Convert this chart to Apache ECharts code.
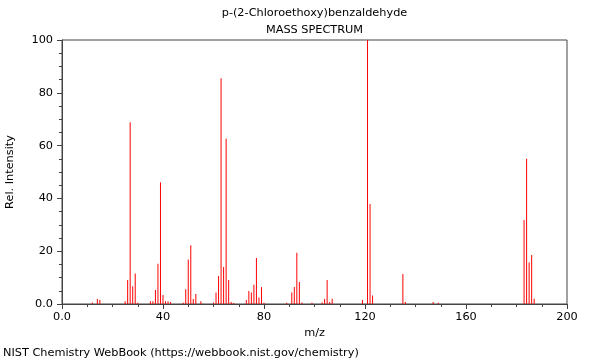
<!DOCTYPE html>
<html><head><meta charset="utf-8">
<script src="https://cdn.jsdelivr.net/npm/echarts@6/dist/echarts.min.js"></script>
<style>html,body{margin:0;padding:0;background:#fff}#c{width:600px;height:360px}</style>
</head><body><div id="c"></div>
<script>
const titleLine1 = 'p-(2-Chloroethoxy)benzaldehyde';
const titleLine2 = 'MASS SPECTRUM';
const xName = 'm/z';
const yName = 'Rel. Intensity';
const footer = 'NIST Chemistry WebBook (https://webbook.nist.gov/chemistry)';
const mz =        [12, 14, 15, 25, 26, 27, 28, 29, 30, 35, 36, 37, 38, 39, 40, 41, 42, 43, 48, 49, 50, 51, 52, 53, 55, 60, 61, 62, 63, 64, 65, 66, 67, 68, 73, 74, 75, 76, 77, 78, 79, 80, 89, 91, 92, 93, 94, 95, 99, 103, 104, 105, 106, 107, 119, 121, 122, 123, 135, 136, 147, 149, 183, 184, 185, 186, 187];
const intensity = [0.6, 1.9, 1.5, 1.0, 9.1, 68.8, 6.7, 11.6, 0.5, 1.0, 1.0, 5.3, 15.2, 46.1, 3.4, 1.0, 1.0, 0.8, 0.5, 5.6, 16.9, 22.3, 1.9, 3.8, 1.0, 0.6, 4.4, 10.6, 85.5, 14.0, 62.6, 9.1, 0.8, 0.4, 1.5, 4.9, 4.4, 7.3, 17.4, 2.5, 6.4, 0.5, 0.5, 4.4, 6.4, 19.4, 8.3, 0.6, 0.5, 0.6, 1.9, 9.1, 0.8, 2.0, 1.5, 100, 37.9, 3.2, 11.4, 0.8, 0.8, 0.5, 31.8, 55.0, 15.7, 18.6, 2.0];

const chart = echarts.init(document.getElementById('c'), null, {renderer: 'canvas'});
const font = 'DejaVu Sans';
const fs = 11.3;
const axisCol = '#444';
const fmt = v => (v === 0 ? '0.0' : String(v));
chart.setOption({
  animation: false,
  textStyle: {fontFamily: font},
  grid: {left: 62, right: 33, top: 40, bottom: 56, containLabel: false, outerBoundsMode: 'none', show: true, borderColor: axisCol, borderWidth: 1, backgroundColor: 'transparent'},
  graphic: [
    {type: 'text', x: 314.5, y: 13, style: {text: titleLine1, font: fs + 'px "DejaVu Sans"', fill: '#000', align: 'center', verticalAlign: 'middle'}},
    {type: 'text', x: 314.5, y: 30, style: {text: titleLine2, font: fs + 'px "DejaVu Sans"', fill: '#000', align: 'center', verticalAlign: 'middle'}},
    {type: 'text', x: 3, y: 353, style: {text: footer, font: fs + 'px "DejaVu Sans"', fill: '#000', align: 'left', verticalAlign: 'middle'}}
  ],
  xAxis: {
    type: 'value', min: 0, max: 200, interval: 40,
    name: xName, nameLocation: 'middle', nameGap: 24,
    nameTextStyle: {color: '#000', fontSize: fs, fontFamily: font},
    axisLine: {lineStyle: {color: axisCol, width: 1}},
    axisTick: {show: true, length: 5, lineStyle: {color: axisCol}},
    minorTick: {show: true, splitNumber: 4, length: 3, lineStyle: {color: axisCol}},
    splitLine: {show: false},
    axisLabel: {color: '#000', fontSize: fs, fontFamily: font, margin: 8, formatter: fmt}
  },
  yAxis: {
    type: 'value', min: 0, max: 100, interval: 20,
    name: yName, nameLocation: 'middle', nameGap: 46,
    nameTextStyle: {color: '#000', fontSize: fs, fontFamily: font},
    axisLine: {show: true, lineStyle: {color: axisCol, width: 1}},
    axisTick: {show: true, length: 5, lineStyle: {color: axisCol}},
    minorTick: {show: true, splitNumber: 4, length: 3, lineStyle: {color: axisCol}},
    splitLine: {show: false},
    axisLabel: {color: '#000', fontSize: fs, fontFamily: font, margin: 9, formatter: fmt}
  },
  series: [{
    type: 'bar', barWidth: 1, silent: true,
    itemStyle: {color: '#ff0000'},
    data: mz.map((m, i) => [m, intensity[i]])
  }]
});
</script></body></html>
